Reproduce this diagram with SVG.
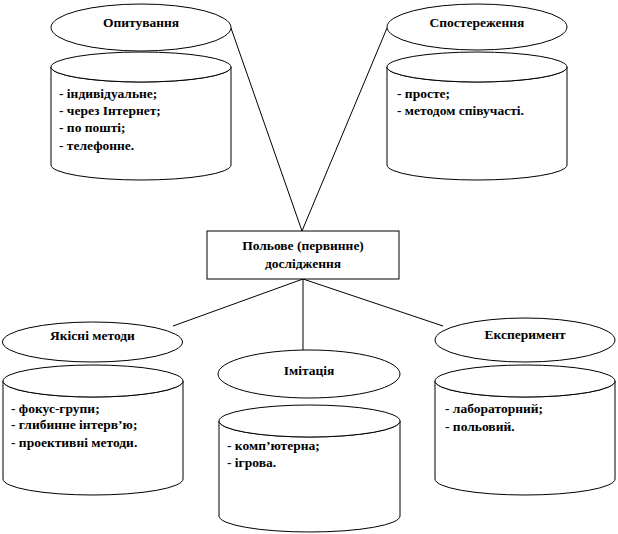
<svg xmlns="http://www.w3.org/2000/svg" width="618" height="534" viewBox="0 0 618 534">
<style>
.s{fill:#fff;stroke:#000;stroke-width:1}
.t{font-family:"Liberation Serif","Times New Roman",serif;font-size:13.5px;font-weight:bold;fill:#000}
.c{text-anchor:middle}
.ln{stroke:#000;stroke-width:1;fill:none}
</style>
<rect width="618" height="534" fill="#fff"/>
<g id="connectors">
<line class="ln" x1="231" y1="28" x2="302" y2="231"/>
<line class="ln" x1="387" y1="28" x2="302" y2="231"/>
<line class="ln" x1="303" y1="279" x2="173" y2="326"/>
<line class="ln" x1="303" y1="279" x2="303" y2="350"/>
<line class="ln" x1="303" y1="279" x2="443" y2="326"/>
</g>
<g id="opytuvannia">
<ellipse class="s" cx="141" cy="27.5" rx="90" ry="23.5"/>
<text class="t c" x="141" y="27">Опитування</text>
</g>
<g id="opytuvannia-list">
<path class="s" d="M51 67 V165 A90 15 0 0 0 231 165 V67 A90 15 0 0 1 51 67 Z"/>
<ellipse class="s" cx="141" cy="67" rx="90" ry="15"/>
<text class="t" x="59" y="98">- індивідуальне;</text>
<text class="t" x="59" y="115">- через Інтернет;</text>
<text class="t" x="59" y="132">- по пошті;</text>
<text class="t" x="59" y="150">- телефонне.</text>
</g>
<g id="sposterezhennia">
<ellipse class="s" cx="477" cy="27" rx="90" ry="23"/>
<text class="t c" x="477" y="27">Спостереження</text>
</g>
<g id="sposterezhennia-list">
<path class="s" d="M387 67 V165 A90 15 0 0 0 567 165 V67 A90 15 0 0 1 387 67 Z"/>
<ellipse class="s" cx="477" cy="67" rx="90" ry="15"/>
<text class="t" x="397" y="98">- просте;</text>
<text class="t" x="397" y="115">- методом співучасті.</text>
</g>
<g id="polove">
<rect class="s" x="207" y="231" width="192" height="48"/>
<text class="t c" x="303" y="250">Польове (первинне)</text>
<text class="t c" x="303" y="268">дослідження</text>
</g>
<g id="yakisni">
<ellipse class="s" cx="92.5" cy="342" rx="90" ry="20"/>
<text class="t c" x="92.5" y="340">Якісні методи</text>
</g>
<g id="yakisni-list">
<path class="s" d="M3 381 V479 A90 16 0 0 0 183 479 V381 A90 16 0 0 1 3 381 Z"/>
<ellipse class="s" cx="93" cy="381" rx="90" ry="16"/>
<text class="t" x="11" y="413">- фокус-групи;</text>
<text class="t" x="11" y="429">- глибинне інтерв’ю;</text>
<text class="t" x="11" y="447">- проективні методи.</text>
</g>
<g id="imitatsiia">
<ellipse class="s" cx="309" cy="374" rx="91" ry="24"/>
<text class="t c" x="309" y="375">Імітація</text>
</g>
<g id="imitatsiia-list">
<path class="s" d="M219 421 V516 A90.5 16 0 0 0 400 516 V421 A90.5 16 0 0 1 219 421 Z"/>
<ellipse class="s" cx="309.5" cy="421" rx="90.5" ry="16"/>
<text class="t" x="227" y="450">- комп’ютерна;</text>
<text class="t" x="227" y="467">- ігрова.</text>
</g>
<g id="eksperyment">
<ellipse class="s" cx="525" cy="340" rx="90" ry="22"/>
<text class="t c" x="525" y="339">Експеримент</text>
</g>
<g id="eksperyment-list">
<path class="s" d="M435 381 V479 A90 16 0 0 0 615 479 V381 A90 16 0 0 1 435 381 Z"/>
<ellipse class="s" cx="525" cy="381" rx="90" ry="16"/>
<text class="t" x="445" y="413">- лабораторний;</text>
<text class="t" x="445" y="431">- польовий.</text>
</g>
</svg>
